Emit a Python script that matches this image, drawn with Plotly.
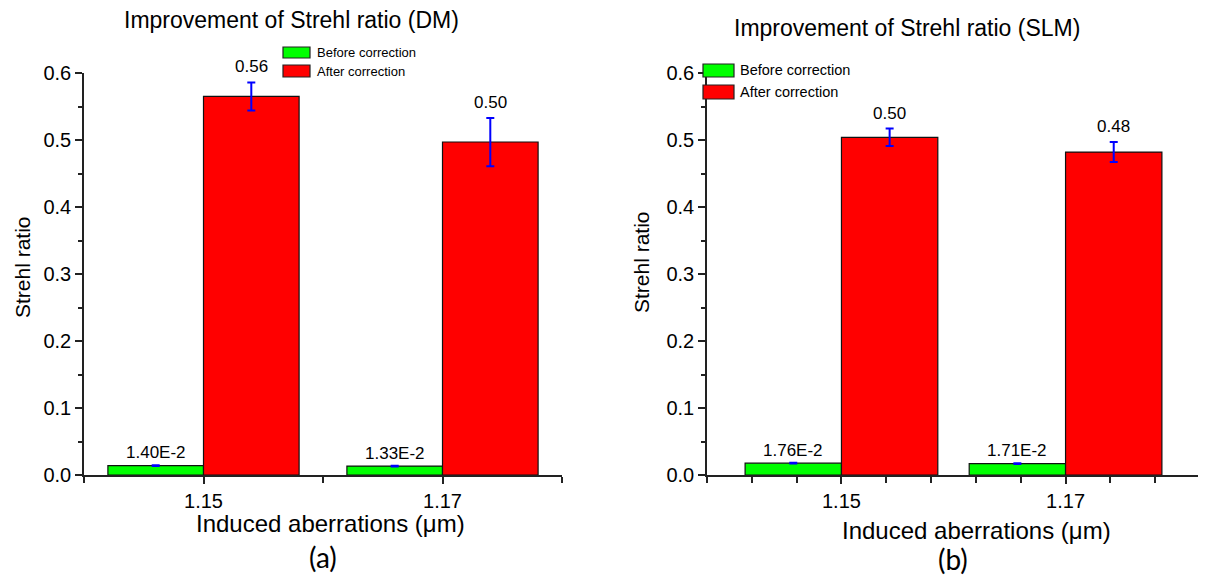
import plotly.graph_objects as go

# ---------------- data ----------------
aberrations = ["1.15", "1.17"]          # induced aberrations (um)
dm_before = [0.0140, 0.0133]
dm_before_err = [0.0006, 0.0006]
dm_after = [0.565, 0.497]
dm_after_err = [0.021, 0.036]
dm_before_labels = ["1.40E-2", "1.33E-2"]
dm_after_labels = ["0.56", "0.50"]

slm_before = [0.0176, 0.0171]
slm_before_err = [0.0006, 0.0006]
slm_after = [0.504, 0.482]
slm_after_err = [0.013, 0.015]
slm_before_labels = ["1.76E-2", "1.71E-2"]
slm_after_labels = ["0.50", "0.48"]

# ---------------- layout helpers ----------------
W, H = 1206, 580
OFF = 8  # page body margin
FONT = "Liberation Sans, Arial, sans-serif"
GREEN = "#00FF00"
RED = "#FF0000"
BLUE = "#0000FF"
AX = "#222222"


def px(x):
    return (x - OFF) / W


def py(y):
    return 1 - (y - OFF) / H


xpos = list(range(len(aberrations)))

fig = go.Figure()

panels = [
    dict(xa="x", ya="y", before=dm_before, berr=dm_before_err, after=dm_after,
         aerr=dm_after_err, blab=dm_before_labels, alab=dm_after_labels, bw=0.4),
    dict(xa="x2", ya="y2", before=slm_before, berr=slm_before_err, after=slm_after,
         aerr=slm_after_err, blab=slm_before_labels, alab=slm_after_labels, bw=0.43),
]

annotations = []
for p in panels:
    bw = p["bw"]
    fig.add_trace(go.Bar(
        x=xpos, y=p["before"], width=bw, offset=-bw, xaxis=p["xa"], yaxis=p["ya"],
        marker=dict(color=GREEN, line=dict(color="#111111", width=1.2)),
        error_y=dict(type="data", array=p["berr"], color=BLUE, thickness=2, width=4),
        showlegend=False, name="Before correction"))
    fig.add_trace(go.Bar(
        x=xpos, y=p["after"], width=bw, offset=0, xaxis=p["xa"], yaxis=p["ya"],
        marker=dict(color=RED, line=dict(color="#111111", width=1.2)),
        error_y=dict(type="data", array=p["aerr"], color=BLUE, thickness=2, width=4),
        showlegend=False, name="After correction"))
    for i in xpos:
        annotations.append(dict(
            x=i - bw / 2, y=p["before"][i] + p["berr"][i], xref=p["xa"], yref=p["ya"],
            text=p["blab"][i], showarrow=False, yanchor="bottom", yshift=1,
            font=dict(family=FONT, size=17, color="black")))
        annotations.append(dict(
            x=i + bw / 2, y=p["after"][i] + p["aerr"][i], xref=p["xa"], yref=p["ya"],
            text=p["alab"][i], showarrow=False, yanchor="bottom", yshift=4,
            font=dict(family=FONT, size=17, color="black")))

# titles & axis titles
texts = [
    ("Improvement of Strehl ratio (DM)", 291, 20, 23, FONT, 0),
    ("Improvement of Strehl ratio (SLM)", 907, 28, 23, FONT, 0),
    ("Strehl ratio", 22, 267, 21, FONT, -90),
    ("Strehl ratio", 641, 262, 21, FONT, -90),
    ("Induced aberrations (\u03bcm)", 330, 523, 24, FONT, 0),
    ("Induced aberrations (\u03bcm)", 977, 530, 24, FONT, 0),
    ("(a)", 323, 557, 28, "Lato, Carlito, sans-serif", 0),
    ("(b)", 953, 559, 28, "Lato, Carlito, sans-serif", 0),
]
for t, x, y, s, f, ang in texts:
    annotations.append(dict(x=px(x), y=py(y), xref="paper", yref="paper", text=t,
                            showarrow=False, xanchor="center", yanchor="middle",
                            textangle=ang, font=dict(family=f, size=s, color="black")))

# manual legends (wide swatches like the original)
shapes = []
legends = [
    (283, 310, [(47, 58), (65, 77)], 315, 13),
    (703, 734, [(64, 77), (85, 99)], 738, 14.5),
]
for x0, x1, rows, tx, fs in legends:
    for (y0, y1), col, lab in zip(rows, [GREEN, RED], ["Before correction", "After correction"]):
        shapes.append(dict(type="rect", xref="paper", yref="paper",
                           x0=px(x0), x1=px(x1), y0=py(y1), y1=py(y0),
                           fillcolor=col, line=dict(color="#222222", width=1.2)))
        annotations.append(dict(x=px(tx), y=py((y0 + y1) / 2), xref="paper", yref="paper",
                                text=lab, showarrow=False, xanchor="left", yanchor="middle",
                                font=dict(family=FONT, size=fs, color="black")))

yaxis_common = dict(
    range=[0, 0.6], dtick=0.1, tickformat=".1f", ticks="outside", ticklen=7, tickwidth=1.5,
    tickcolor=AX, showline=True, linecolor=AX, linewidth=1.5, showgrid=False, zeroline=False,
    tickfont=dict(family=FONT, size=20, color="black"), automargin=False,
    minor=dict(dtick=0.05, ticks="outside", ticklen=4, tickwidth=1.5, tickcolor=AX, showgrid=False),
    domain=[py(475), py(73)], fixedrange=True,
)
xaxis_common = dict(
    tickmode="array", tickvals=xpos, ticktext=aberrations, ticks="outside", ticklen=7,
    tickwidth=1.5, tickcolor=AX, showline=True, linecolor=AX, linewidth=1.5, showgrid=False,
    zeroline=False, tickfont=dict(family=FONT, size=20, color="black"), fixedrange=True,
    automargin=False,
)

fig.update_layout(
    template="none",
    width=W, height=H, margin=dict(l=0, r=0, t=0, b=0, pad=0, autoexpand=False),
    paper_bgcolor="white", plot_bgcolor="white", barmode="overlay",
    xaxis=dict(xaxis_common, domain=[px(84), px(562)], range=[-0.5, 1.5], anchor="y",
               minor=dict(tickmode="array", tickvals=[-0.5, 0.5, 1.5], ticks="outside",
                          ticklen=6, tickwidth=1.5, tickcolor=AX, showgrid=False)),
    yaxis=dict(yaxis_common, anchor="x"),
    xaxis2=dict(xaxis_common, domain=[px(707), px(1200)], range=[-0.6, 1.6], anchor="y2",
                minor=dict(tickmode="array",
                           tickvals=[-0.6, -0.4, -0.2, 0.2, 0.4, 0.6, 0.8, 1.2, 1.4, 1.6],
                           ticks="outside", ticklen=6, tickwidth=1.5, tickcolor=AX,
                           showgrid=False)),
    yaxis2=dict(yaxis_common, anchor="x2"),
    annotations=annotations, shapes=shapes, showlegend=False,
)

fig.write_html("out.html")
